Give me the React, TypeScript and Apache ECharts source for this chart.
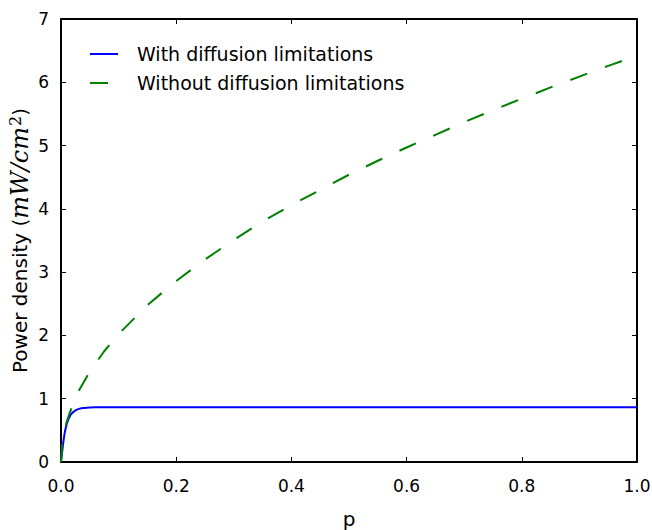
import React, { useEffect, useRef } from "react";
import * as echarts from "echarts";

// Power density versus p, with and without diffusion limitations
const withDiffP = [0, 0.001, 0.002, 0.004, 0.006, 0.008, 0.01, 0.013, 0.016, 0.02, 0.025, 0.03, 0.035, 0.04, 0.05, 0.06, 0.08, 0.1, 0.2, 0.4, 0.6, 0.8, 1.0];
const withDiffPower = [0, 0.08, 0.16, 0.31, 0.44, 0.53, 0.6, 0.68, 0.735, 0.78, 0.815, 0.835, 0.848, 0.855, 0.861, 0.864, 0.866, 0.867, 0.867, 0.867, 0.867, 0.867, 0.867];

const withoutDiffP = [0, 0.002, 0.005, 0.01, 0.02, 0.03, 0.05, 0.075, 0.1, 0.15, 0.2, 0.25, 0.3, 0.35, 0.4, 0.45, 0.5, 0.55, 0.6, 0.65, 0.7, 0.75, 0.8, 0.85, 0.9, 0.95, 1.0];
const withoutDiffPower = [0, 0.29, 0.45, 0.64, 0.9, 1.11, 1.43, 1.75, 2.02, 2.48, 2.86, 3.2, 3.51, 3.8, 4.06, 4.3, 4.54, 4.76, 4.97, 5.17, 5.37, 5.56, 5.74, 5.92, 6.09, 6.26, 6.42];

const seriesNames = ["With diffusion limitations", "Without diffusion limitations"];

const FONT = "DejaVu Sans";
const MATH_FONT = "DejaVu Serif";

export default function App() {
  const ref = useRef<HTMLDivElement>(null);

  useEffect(() => {
    document.body.style.margin = "0";
    const chart = echarts.init(ref.current!, undefined, { renderer: "svg" });

    const axisLine = { show: true, onZero: false, lineStyle: { color: "#000", width: 2 } };
    const tickIn = { show: true, inside: true, length: 5, lineStyle: { color: "#000", width: 1 } };

    chart.setOption({
      animation: false,
      backgroundColor: "#fff",
      grid: { left: 61, right: 15, top: 19, bottom: 68, containLabel: false, outerBoundsMode: "none" },
      legend: {
        orient: "vertical",
        left: 84,
        top: 39,
        itemWidth: 28,
        itemHeight: 14,
        itemGap: 9,
        itemStyle: { opacity: 0 },
        textStyle: { fontFamily: FONT, fontSize: 19, color: "#000", lineHeight: 20, padding: [0, 0, 0, 14] },
        data: seriesNames,
      },
      xAxis: [
        {
          type: "value",
          min: 0,
          max: 1,
          interval: 0.2,
          name: "p",
          nameLocation: "middle",
          nameGap: 47,
          nameTextStyle: { fontFamily: FONT, fontSize: 20, color: "#000" },
          axisLine,
          axisTick: tickIn,
          splitLine: { show: false },
          axisLabel: {
            margin: 15,
            fontFamily: FONT,
            fontSize: 17,
            color: "#000",
            formatter: (v: number) => v.toFixed(1),
          },
        },
        {
          type: "value",
          position: "top",
          min: 0,
          max: 1,
          interval: 0.2,
          axisLine,
          axisTick: tickIn,
          axisLabel: { show: false },
          splitLine: { show: false },
        },
      ],
      yAxis: [
        {
          type: "value",
          min: 0,
          max: 7,
          interval: 1,
          name: "{n|Power density (}{m|mW/cm}{s|2}{n|)}",
          nameLocation: "middle",
          nameRotate: 90,
          nameGap: 28,
          nameMoveOverlap: false,
          nameTextStyle: {
            rich: {
              n: { fontFamily: FONT, fontSize: 20, color: "#000", lineHeight: 26 },
              m: { fontFamily: MATH_FONT, fontStyle: "italic", fontSize: 24, color: "#000", lineHeight: 26 },
              s: { fontFamily: MATH_FONT, fontSize: 16, color: "#000", verticalAlign: "top", lineHeight: 26, padding: [0, 0, 8, 1] },
            },
          },
          axisLine,
          axisTick: tickIn,
          splitLine: { show: false },
          axisLabel: { margin: 12, fontFamily: FONT, fontSize: 17, color: "#000" },
        },
        {
          type: "value",
          position: "right",
          min: 0,
          max: 7,
          interval: 1,
          axisLine,
          axisTick: tickIn,
          axisLabel: { show: false },
          splitLine: { show: false },
        },
      ],
      series: [
        {
          name: seriesNames[0],
          type: "line",
          xAxisIndex: 0,
          yAxisIndex: 0,
          symbol: "none",
          smooth: false,
          color: "#0000ff",
          lineStyle: { color: "#0000ff", width: 2 },
          data: withDiffP.map((p, i) => [p, withDiffPower[i]]),
        },
        {
          name: seriesNames[1],
          type: "line",
          xAxisIndex: 0,
          yAxisIndex: 0,
          symbol: "none",
          smooth: false,
          color: "#008000",
          lineStyle: { color: "#008000", width: 2, type: [18, 19] },
          data: withoutDiffP.map((p, i) => [p, withoutDiffPower[i]]),
        },
      ],
    });

    return () => chart.dispose();
  }, []);

  return <div ref={ref} style={{ width: 652, height: 530 }} />;
}
